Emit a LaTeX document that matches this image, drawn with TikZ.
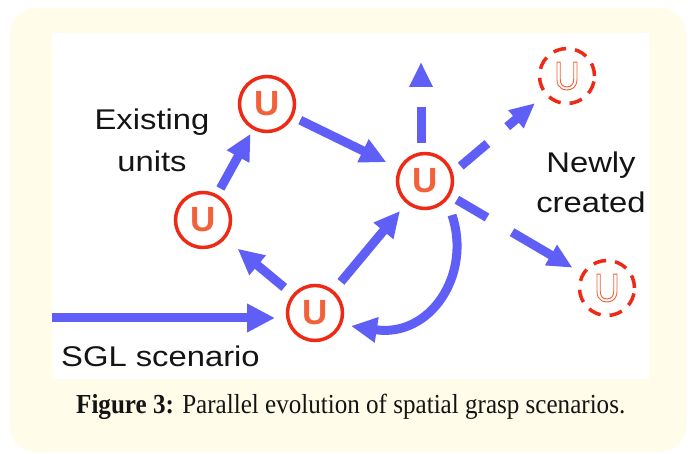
\documentclass[tikz,border=0pt]{standalone}
\usepackage{fontspec}
\setmainfont{Liberation Serif}
\setsansfont{Liberation Sans}
\usepackage{graphicx}
\usetikzlibrary{arrows.meta,calc}
\definecolor{panel}{RGB}{255,252,234}
\definecolor{flow}{RGB}{95,95,248}
\definecolor{ring}{RGB}{238,42,22}
\definecolor{uorange}{RGB}{242,98,58}
\definecolor{ink}{RGB}{20,20,20}
% letters drawn as outlines only (PDF text render mode 1)
\newcommand{\hollowtext}[1]{\special{pdf:literal 1 Tr 1 w}#1\special{pdf:literal 0 Tr}}

\begin{document}
\begin{tikzpicture}[x=1pt,y=-1pt,
  unit/.style={circle, draw=ring, line width=3.5pt, fill=white, minimum size=55pt,
    inner sep=0pt, outer sep=0pt, text=uorange,
    font=\sffamily\bfseries\fontsize{35}{35}\selectfont},
  newunit/.style={circle, draw=ring, line width=3.5pt, dash pattern=on 13pt off 9pt,
    fill=white, minimum size=55pt, inner sep=0pt, outer sep=0pt, text=uorange,
    font=\sffamily\fontsize{40}{40}\selectfont},
  flowarrow/.style={draw=flow, line width=9pt, -{Triangle[length=26pt,width=24pt]}},
  spawn/.style={flowarrow, -{Triangle[length=25pt,width=22pt]}},
  label/.style={text=ink, inner sep=0pt}
]
\useasboundingbox (0,0) rectangle (688,454);
% page, cream panel and white drawing area
\fill[white] (0,0) rectangle (688,454);
\fill[panel, rounded corners=26pt] (10,8) rectangle (686,452);
\fill[white] (52,33) rectangle (649,379);

% existing units
\node[unit] (A) at (267,104) {U};
\node[unit] (B) at (203,220) {U};
\node[unit] (C) at (315,313) {U};
\node[unit] (D) at (425,181) {U};
% newly created units
\node[newunit] (E) at (567,76) {\scalebox{0.88}[1]{\hollowtext{U}}};
\node[newunit] (F) at (607,288) {\scalebox{0.88}[1]{\hollowtext{U}}};

% free ends
\coordinate (src) at (52,318);
\coordinate (top) at (421,62);

% propagation between existing units
\draw[flowarrow, shorten <=8.5pt, shorten >=6.5pt] (B) -- (A);
\draw[flowarrow, shorten <=9.5pt, shorten >=15.5pt] (A) -- (D);
\draw[flowarrow, shorten <=12.5pt, shorten >=17.5pt] (C) -- (B);
\draw[flowarrow, shorten <=13pt, shorten >=11.5pt] (C) -- (D);
\draw[flowarrow, -{Triangle[length=28pt,width=27pt]}, shorten >=12.5pt]
  (src) -- (C.west |- src);
\draw[flowarrow] ($(D)+(27,34)$) .. controls +(20,60) and +(79,12) .. ($(C)+(36,13)$);

% spawning of new units
\draw[spawn, dash pattern=on 36pt off 60pt, shorten <=10.5pt] (D.north -| top) -- (top);
\draw[spawn, dash pattern=on 35pt off 26pt on 80pt off 1pt, shorten <=12pt, shorten >=14.5pt]
  (D.15) -- (E);
\draw[spawn, dash pattern=on 35pt off 29pt on 90pt off 1pt, shorten <=9.5pt, shorten >=12.5pt]
  (D) -- (F);

% labels
\node[label, font=\sffamily\fontsize{28.5}{42}\selectfont] (existing) at (152,142.6)
  {\scalebox{1.15}[1]{\begin{tabular}{@{}c@{}}Existing\\units\end{tabular}}};
\node[label, font=\sffamily\fontsize{28.5}{40}\selectfont] (newly) at (591,185)
  {\scalebox{1.15}[1]{\begin{tabular}{@{}c@{}}Newly\\created\end{tabular}}};
\node[label, anchor=base west, font=\sffamily\fontsize{28.5}{34}\selectfont] (sgl) at (61,366)
  {\scalebox{1.15}[1]{SGL scenario}};

% caption
\node[label, anchor=base west, font=\fontsize{27.5}{30}\selectfont] (caption) at (76,413)
  {\resizebox{549pt}{\height}{\textbf{Figure 3:} Parallel evolution of spatial grasp scenarios.}};
\end{tikzpicture}
\end{document}
